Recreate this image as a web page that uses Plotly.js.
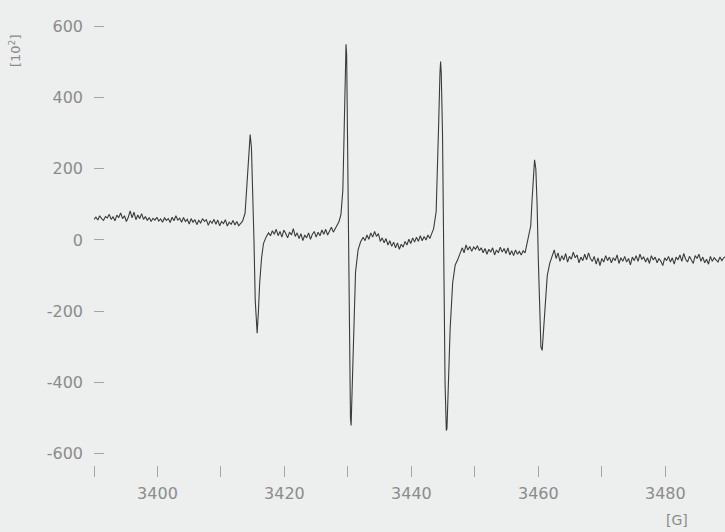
<!DOCTYPE html>
<html>
<head>
<meta charset="utf-8">
<script src="https://cdn.plot.ly/plotly-3.0.1.min.js"></script>
<style>
html,body{margin:0;padding:0;background:#edefee;}
#chart{width:725px;height:532px;}
</style>
</head>
<body>
<div id="chart"></div>
<script>
// [field G, intensity 10^2] pairs, segment by segment
const baseline1 = [
 [3390.0,58],[3390.3,64],[3390.6,56],[3390.9,68],[3391.2,60],[3391.5,55],[3391.8,66],[3392.1,62],[3392.4,72],[3392.7,58],
 [3393.0,65],[3393.3,54],[3393.6,70],[3393.9,63],[3394.2,76],[3394.5,60],[3394.8,68],[3395.1,52],[3395.4,64],[3395.7,82],
 [3396.0,62],[3396.3,78],[3396.6,57],[3396.9,70],[3397.2,60],[3397.5,74],[3397.8,58],[3398.1,66],[3398.4,55],[3398.7,63],
 [3399.0,52],[3399.3,61],[3399.6,56],[3399.9,64],[3400.2,53],[3400.5,59],[3400.8,50],[3401.1,62],[3401.4,55],[3401.7,60],
 [3402.0,49],[3402.3,64],[3402.6,54],[3402.9,68],[3403.2,56],[3403.5,61],[3403.8,50],[3404.1,63],[3404.4,52],[3404.7,58],
 [3405.0,45],[3405.3,60],[3405.6,50],[3405.9,57],[3406.2,43],[3406.5,55],[3406.8,48],[3407.1,60],[3407.4,52],[3407.7,57],
 [3408.0,41],[3408.3,54],[3408.6,47],[3408.9,58],[3409.2,44],[3409.5,56],[3409.8,40],[3410.1,52],[3410.4,46],[3410.7,57],
 [3411.0,39],[3411.3,50],[3411.6,44],[3411.9,55],[3412.2,42],[3412.5,52],[3412.8,40],[3413.1,47],[3413.4,53]
];
const line1 = [
 [3413.8,75],[3414.0,130],[3414.2,210],[3414.4,270],[3414.6,296],[3414.8,260],[3415.0,150],[3415.2,0],
 [3415.4,-170],[3415.6,-250],[3415.7,-262],[3415.9,-200],[3416.1,-120],[3416.4,-50],[3416.7,-10],[3417.1,8]
];
const baseline2 = [
 [3417.5,20],[3417.8,12],[3418.1,26],[3418.4,16],[3418.7,30],[3419.0,12],[3419.3,24],[3419.6,8],[3419.9,28],[3420.2,18],
 [3420.5,6],[3420.8,22],[3421.1,14],[3421.4,32],[3421.7,10],[3422.0,20],[3422.3,4],[3422.6,18],[3422.9,-2],[3423.2,14],
 [3423.5,6],[3423.8,20],[3424.1,2],[3424.4,16],[3424.7,24],[3425.0,8],[3425.3,22],[3425.6,12],[3425.9,28],[3426.2,16],
 [3426.5,30],[3426.8,14],[3427.1,26],[3427.4,36],[3427.7,22],[3428.0,32],[3428.3,40],[3428.6,52],[3428.9,72]
];
const line2 = [
 [3429.2,140],[3429.4,300],[3429.6,500],[3429.7,550],[3429.8,520],[3430.0,200],[3430.2,-250],[3430.4,-500],
 [3430.5,-521],[3430.7,-400],[3430.9,-220],[3431.2,-90],[3431.6,-28],[3432.0,-5],[3432.4,8]
];
const baseline3 = [
 [3432.7,-2],[3433.0,14],[3433.3,2],[3433.6,20],[3433.9,8],[3434.2,24],[3434.5,10],[3434.8,18],[3435.1,-4],[3435.4,6],
 [3435.7,-8],[3436.0,4],[3436.3,-14],[3436.6,-2],[3436.9,-18],[3437.2,-6],[3437.5,-22],[3437.8,-8],[3438.1,-26],[3438.4,-12],
 [3438.7,-20],[3439.0,-4],[3439.3,-14],[3439.6,2],[3439.9,-10],[3440.2,6],[3440.5,-6],[3440.8,8],[3441.1,-4],[3441.4,12],
 [3441.7,-2],[3442.0,10],[3442.3,0],[3442.6,14],[3442.9,4],[3443.2,18],[3443.5,32]
];
const line3 = [
 [3443.9,80],[3444.1,180],[3444.3,330],[3444.5,470],[3444.6,501],[3444.7,470],[3444.9,300],[3445.1,-50],
 [3445.3,-400],[3445.5,-535],[3445.6,-530],[3445.8,-420],[3446.1,-250],[3446.5,-120],[3446.9,-70],[3447.3,-55],[3447.7,-38]
];
const baseline4 = [
 [3448.0,-22],[3448.3,-36],[3448.6,-14],[3448.9,-28],[3449.2,-18],[3449.5,-32],[3449.8,-20],[3450.1,-26],[3450.4,-16],[3450.7,-30],
 [3451.0,-22],[3451.3,-36],[3451.6,-24],[3451.9,-40],[3452.2,-26],[3452.5,-34],[3452.8,-22],[3453.1,-42],[3453.4,-28],[3453.7,-36],
 [3454.0,-20],[3454.3,-34],[3454.6,-24],[3454.9,-38],[3455.2,-22],[3455.5,-42],[3455.8,-30],[3456.1,-44],[3456.4,-28],[3456.7,-40],
 [3457.0,-32],[3457.3,-42],[3457.6,-30],[3457.9,-36],[3458.2,-8]
];
const line4 = [
 [3458.5,10],[3458.8,40],[3459.0,110],[3459.2,190],[3459.4,225],[3459.6,200],[3459.8,100],[3460.0,-60],
 [3460.2,-220],[3460.4,-300],[3460.6,-310],[3460.8,-260],[3461.1,-170],[3461.4,-100],[3461.8,-65],[3462.2,-40]
];
const baseline5 = [
 [3462.5,-28],[3462.8,-52],[3463.1,-36],[3463.4,-60],[3463.7,-44],[3464.0,-56],[3464.3,-38],[3464.6,-62],[3464.9,-46],[3465.2,-54],
 [3465.5,-34],[3465.8,-50],[3466.1,-42],[3466.4,-64],[3466.7,-48],[3467.0,-58],[3467.3,-40],[3467.6,-56],[3467.9,-36],[3468.2,-52],
 [3468.5,-60],[3468.8,-46],[3469.1,-68],[3469.4,-50],[3469.7,-72],[3470.0,-52],[3470.3,-62],[3470.6,-44],[3470.9,-58],[3471.2,-48],
 [3471.5,-64],[3471.8,-50],[3472.1,-58],[3472.4,-42],[3472.7,-66],[3473.0,-50],[3473.3,-60],[3473.6,-46],[3473.9,-62],[3474.2,-52],
 [3474.5,-70],[3474.8,-48],[3475.1,-58],[3475.4,-44],[3475.7,-60],[3476.0,-40],[3476.3,-54],[3476.6,-48],[3476.9,-62],[3477.2,-50],
 [3477.5,-66],[3477.8,-44],[3478.1,-56],[3478.4,-48],[3478.7,-64],[3479.0,-52],[3479.3,-60],[3479.6,-72],[3479.9,-50],[3480.2,-58],
 [3480.5,-46],[3480.8,-62],[3481.1,-50],[3481.4,-68],[3481.7,-48],[3482.0,-56],[3482.3,-42],[3482.6,-60],[3482.9,-38],[3483.2,-54],
 [3483.5,-62],[3483.8,-46],[3484.1,-58],[3484.4,-66],[3484.7,-44],[3485.0,-52],[3485.3,-40],[3485.6,-60],[3485.9,-48],[3486.2,-64],
 [3486.5,-54],[3486.8,-68],[3487.1,-46],[3487.4,-60],[3487.7,-50],[3488.0,-56],[3488.3,-62],[3488.6,-48],[3488.9,-58],[3489.2,-50],
 [3489.5,-46]
];

const xTickVals = [3390,3400,3410,3420,3430,3440,3450,3460,3470,3480];
const xTickText = [" ","3400"," ","3420"," ","3440"," ","3460"," ","3480"];
const yTickVals = [-600,-400,-200,0,200,400,600];
const yTickText = ["-600","-400","-200","0","200","400","600"];

const spectrum = [].concat(baseline1, line1, baseline2, line2, baseline3, line3, baseline4, line4, baseline5);
const fieldG = spectrum.map(p => p[0]);
const signal = spectrum.map(p => p[1]);

const labelFont = {family: "DejaVu Sans, sans-serif", size: 16, color: "#8a8c8b"};

const trace = {
  x: fieldG, y: signal, type: "scatter", mode: "lines",
  line: {color: "#3a3b3b", width: 1.1}, hoverinfo: "skip"
};

const layout = {
  width: 725, height: 532,
  margin: {l: 94, r: 0, t: 5, b: 67},
  paper_bgcolor: "#edefee", plot_bgcolor: "#edefee",
  showlegend: false,
  xaxis: {
    range: [3390, 3489.4], showgrid: false, zeroline: false, showline: false,
    tickmode: "array", tickvals: xTickVals, ticktext: xTickText,
    ticks: "outside", ticklen: 11, tickwidth: 1, tickcolor: "#a3a5a4",
    tickfont: labelFont, ticklabelstandoff: 3
  },
  yaxis: {
    range: [-632, 660], showgrid: false, zeroline: false, showline: false,
    tickmode: "array", tickvals: yTickVals, ticktext: yTickText,
    ticks: "inside", ticklen: 10, tickwidth: 1, tickcolor: "#a3a5a4",
    tickfont: labelFont, ticklabelstandoff: 10
  },
  annotations: [
    {text: "[10<sup>2</sup>]", xref: "paper", yref: "paper",
     x: (15-94)/631, y: (465-51)/460, xanchor: "center", yanchor: "middle",
     showarrow: false, textangle: -90,
     font: {family: "DejaVu Sans, sans-serif", size: 13, color: "#8a8c8b"}},
    {text: "[G]", xref: "paper", yref: "paper",
     x: (677-94)/631, y: (465-520)/460, xanchor: "center", yanchor: "middle",
     showarrow: false,
     font: {family: "DejaVu Sans, sans-serif", size: 14, color: "#8a8c8b"}}
  ]
};

Plotly.newPlot("chart", [trace], layout, {displayModeBar: false, staticPlot: true});
</script>
</body>
</html>
